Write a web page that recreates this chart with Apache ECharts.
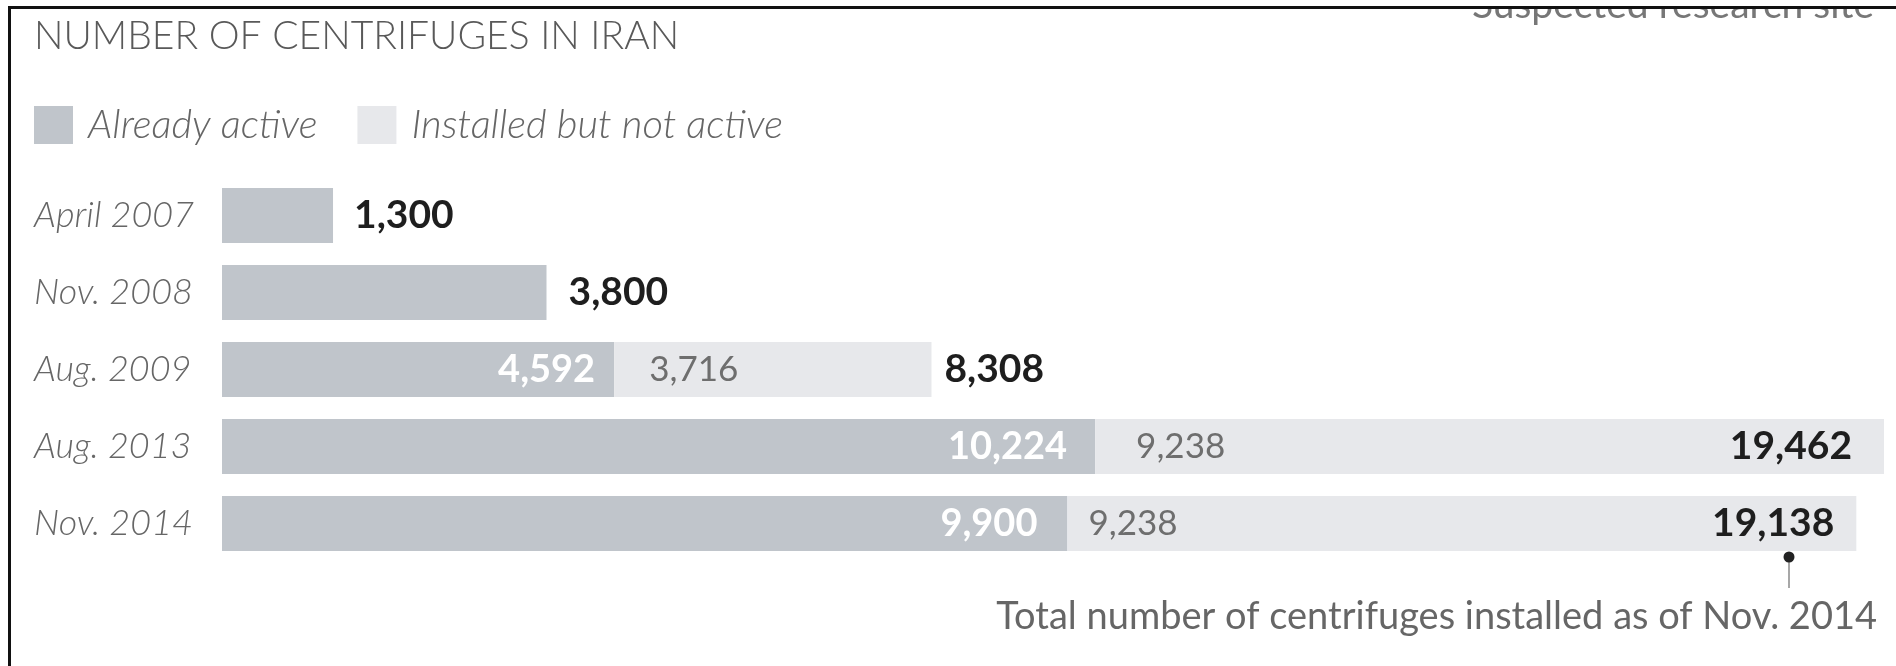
<!DOCTYPE html>
<html>
<head>
<meta charset="utf-8">
<script src="https://cdn.jsdelivr.net/npm/echarts@6/dist/echarts.min.js"></script>
<style>
html,body{margin:0;padding:0;background:#fff;}
#chart{width:1896px;height:666px;}
</style>
</head>
<body>
<div id="chart"></div>
<script>
// ---- data ----
var categories = ['April 2007', 'Nov. 2008', 'Aug. 2009', 'Aug. 2013', 'Nov. 2014'];
var alreadyActive = [1300, 3800, 4592, 10224, 9900];
var installedNotActive = [0, 0, 3716, 9238, 9238];
var totals = [1300, 3800, 8308, 19462, 19138];
var showActiveLabel = [false, false, true, true, true];
var showInstalledLabel = [false, false, true, true, true];
var seriesNames = ['Already active', 'Installed but not active'];
var titleText = 'NUMBER OF CENTRIFUGES IN IRAN';
var noteText = 'Total number of centrifuges installed as of Nov. 2014';
var clippedText = 'Suspected research site';

// ---- style (kept apart from data) ----
var FONT = 'Lato, "Open Sans", sans-serif';
var activeColor = '#c0c5cb';
var inactiveColor = '#e7e8eb';
var activeLabelDist = [0, 0, 19, 28, 30];
var inactiveLabelDist = [0, 0, 35, 41, 21];
var totalPos = ['right', 'right', 'right', 'insideRight', 'insideRight'];
var totalDist = [21, 22, 13, 32, 22];

function fmt(v){ return v.toLocaleString('en-US'); }

var chart = echarts.init(document.getElementById('chart'), null, {renderer: 'canvas'});

var option = {
  backgroundColor: '#ffffff',
  animation: false,
  title: {
    text: titleText,
    left: 34,
    top: 17,
    padding: 0,
    textStyle: {fontFamily: FONT, fontWeight: 300, fontSize: 39, color: '#595959', lineHeight: 39}
  },
  legend: {
    data: seriesNames,
    left: 34,
    top: 105,
    padding: 0,
    icon: 'rect',
    itemWidth: 39,
    itemHeight: 38,
    itemGap: 40,
    selectedMode: false,
    textStyle: {fontFamily: FONT, fontStyle: 'italic', fontWeight: 300, fontSize: 40, color: '#666', padding: [0, 0, 0, 10]}
  },
  grid: {left: 222, right: 12, top: 177, bottom: 104, containLabel: false},
  xAxis: {
    type: 'value', min: 0, max: 19462, show: false
  },
  yAxis: {
    type: 'category', data: categories, inverse: true,
    axisLine: {show: false}, axisTick: {show: false}, splitLine: {show: false},
    axisLabel: {
      align: 'left', margin: 188,
      fontFamily: FONT, fontStyle: 'italic', fontWeight: 300, fontSize: 36, color: '#666'
    }
  },
  series: [
    {
      name: seriesNames[0], type: 'bar', stack: 's', barWidth: 55, barGap: '-100%',
      itemStyle: {color: activeColor},
      data: alreadyActive.map(function(v, i){
        return {value: v, label: {
          show: showActiveLabel[i], position: 'insideRight', distance: activeLabelDist[i],
          formatter: fmt(v), color: '#ffffff', fontFamily: FONT, fontWeight: 'bold', fontSize: 38
        }};
      })
    },
    {
      name: seriesNames[1], type: 'bar', stack: 's', barWidth: 55, barGap: '-100%',
      itemStyle: {color: inactiveColor},
      data: installedNotActive.map(function(v, i){
        return {value: v, label: {
          show: showInstalledLabel[i], position: 'insideLeft', distance: inactiveLabelDist[i],
          formatter: fmt(v), color: '#6e6e6e', fontFamily: FONT, fontWeight: 'normal', fontSize: 35
        }};
      })
    },
    {
      name: 'Total', type: 'bar', barWidth: 55, barGap: '-100%', z: 5, silent: true,
      itemStyle: {color: 'rgba(0,0,0,0)'},
      data: totals.map(function(v, i){
        return {value: v, label: {
          show: true, position: totalPos[i], distance: totalDist[i],
          formatter: fmt(v), color: '#1e1e1e', fontFamily: FONT, fontWeight: 'bold', fontSize: 39
        }};
      })
    }
  ],
  graphic: [
    {type: 'text', z: 1, style: {text: clippedText, x: 1874, y: 25, align: 'right', verticalAlign: 'bottom',
      font: '39px ' + FONT, fill: '#777'}},
    {type: 'rect', z: 2, shape: {x: 0, y: 0, width: 1896, height: 7}, style: {fill: '#ffffff'}},
    {type: 'rect', z: 3, shape: {x: 8, y: 6, width: 1888, height: 3}, style: {fill: '#111'}},
    {type: 'rect', z: 3, shape: {x: 8, y: 6, width: 3, height: 660}, style: {fill: '#111'}},
    {type: 'line', z: 3, shape: {x1: 1789, y1: 557, x2: 1789, y2: 588}, style: {stroke: '#8a8a8a', lineWidth: 1.5}},
    {type: 'circle', z: 4, shape: {cx: 1789, cy: 557, r: 5.5}, style: {fill: '#222'}},
    {type: 'text', z: 3, style: {text: noteText, x: 1877, y: 617, align: 'right', verticalAlign: 'middle',
      font: '38px ' + FONT, fill: '#666'}}
  ]
};
chart.setOption(option);
</script>
</body>
</html>
